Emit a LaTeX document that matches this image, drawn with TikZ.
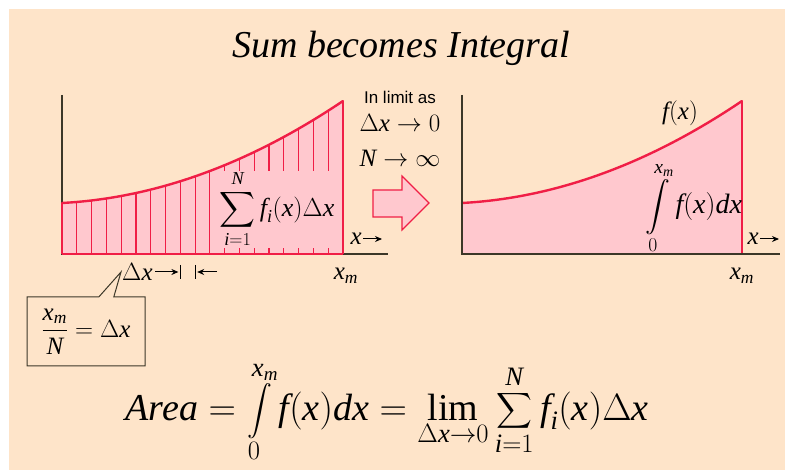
\documentclass[tikz,border=0pt]{standalone}
\usepackage{fix-cm}
\usepackage{amsmath}
\usepackage{fontspec}
\setmainfont{Liberation Serif}
\newfontfamily\limfont{Liberation Sans}
\usetikzlibrary{calc, arrows.meta, shapes.callouts}
\definecolor{peach}{RGB}{254,228,201}
\definecolor{curvered}{RGB}{240,30,70}
\definecolor{areapink}{RGB}{255,200,206}
\definecolor{axisgray}{RGB}{60,55,40}
\newcommand\fsz[1]{\fontsize{#1}{#1}\selectfont}
\newcommand\mi[1]{\textit{#1}}

\begin{document}
\begin{tikzpicture}[x=1pt, y=-1pt,
    declare function={fh(\t)=51+15*\t+87*\t*\t;},
    axis/.style={line width=1.8pt, draw=axisgray},
    redline/.style={line width=1.2pt, draw=curvered},
    curve/.style={line width=2.4pt, draw=curvered, line cap=round},
    lbl/.style={inner sep=1pt, text=black, font=\fsz{25}},
    arr/.style={-{Stealth[length=7pt, width=6pt]}, line width=1pt}]
  \useasboundingbox (0,0) rectangle (785,470);
  \fill[peach] (9,9) rectangle (785,470);
  % title
  \node[font=\fsz{38}\itshape] (title) at (401,48) {Sum becomes Integral};

  % left graph: strips under the curve
  \fill[areapink] (62,254) -- plot[domain=0:1, samples=50] ({62+281*\x},{254-fh(\x)}) -- (343,254) -- cycle;
  \draw[axis] (62,95) -- (62,254) -- (388,254);
  \foreach \i in {0,...,19}{
    \pgfmathsetmacro\xa{62+281/19*\i}
    \pgfmathsetmacro\yt{254-fh(\i/19)}
    \draw[redline] (\xa,254) -- (\xa,\yt);
  }
  \draw[redline] (62,254) -- (343,254);
  \draw[curve] plot[domain=0:1, samples=50] ({62+281*\x},{254-fh(\x)});
  \node[fill=areapink, inner sep=0pt, minimum width=127, minimum height=75, font=\fsz{26}]
    (sumlabel) at (277,209.5) {$\displaystyle\sum_{\mi{i}=1}^{\mi{N}} \mi{f}_{\mi{i}}(\mi{x})\Delta \mi{x}$};
  \node[lbl, anchor=east] (xleft) at (363,239) {\mi{x}};
  \draw[arr] (xleft.east) -- ++(19,0);
  \node[lbl] (xmleft) at (346,276) {$\mi{x}_{\mi{m}}$};

  % strip width
  \node[lbl, anchor=west] (dxlabel) at (121,272) {$\Delta \mi{x}$};
  \coordinate (barL) at (180.4,272);
  \coordinate (barR) at (195.2,272);
  \draw[line width=1.2pt] ($(barL)+(0,-7)$) -- ($(barL)+(0,7)$);
  \draw[line width=1.2pt] ($(barR)+(0,-7)$) -- ($(barR)+(0,7)$);
  \draw[arr] ($(barL)+(-25,0)$) -- ($(barL)+(-2,0)$);
  \draw[arr] ($(barR)+(22,0)$) -- ($(barR)+(2,0)$);
  \node[draw=axisgray, line width=1pt, rectangle callout,
    callout absolute pointer={(dxlabel.west)}, callout pointer width=15pt,
    minimum width=118, minimum height=69, font=\fsz{25}]
    (ratiobox) at (86,331.5) {$\dfrac{\mi{x}_{\mi{m}}}{\mi{N}} = \Delta \mi{x}$};

  % limit text and block arrow
  \node[font=\limfont\fsz{17}, inner sep=0pt] (limtext) at (400,97) {In limit as};
  \node[lbl] (dxzero) at (400,123) {$\Delta \mi{x} \rightarrow 0$};
  \node[lbl] (ninf) at (400,158) {$\mi{N} \rightarrow \infty$};
  \filldraw[draw=curvered, fill=areapink, line width=1.2pt]
    (373,190) -- (402,190) -- (402,176) -- (429,203) -- (402,230) -- (402,217) -- (373,217) -- cycle;

  % right graph: area under the curve
  \fill[areapink] (462,254) -- plot[domain=0:1, samples=50] ({462+280*\x},{254-fh(\x)}) -- (742,254) -- cycle;
  \draw[redline] (742,254) -- (742,{254-fh(1)});
  \draw[curve] plot[domain=0:1, samples=50] ({462+280*\x},{254-fh(\x)});
  \draw[axis] (462,95) -- (462,254) -- (780,254);
  \node[lbl] (fxlabel) at (680,113) {$\mi{f}(\mi{x})$};
  \node[font=\fsz{28}, inner sep=0pt] (intlabel) at (694,208)
    {$\displaystyle\int\limits_0^{\mi{x}_{\mi{m}}} \mi{f}(\mi{x})\mi{dx}$};
  \node[lbl, anchor=east] (xright) at (760,239) {\mi{x}};
  \draw[arr] (xright.east) -- ++(19,0);
  \node[lbl] (xmright) at (742,276) {$\mi{x}_{\mi{m}}$};

  % bottom formula
  \node[font=\fsz{38}, inner sep=0pt] (areaeq) at (387,412)
    {$\mi{Area} = \displaystyle\int\limits_0^{\mi{x}_{\mi{m}}} \mi{f}(\mi{x})\mi{dx}
      = \lim_{\Delta \mi{x}\rightarrow 0}\sum_{\mi{i}=1}^{\mi{N}} \mi{f}_{\mi{i}}(\mi{x})\Delta \mi{x}$};
\end{tikzpicture}
\end{document}
